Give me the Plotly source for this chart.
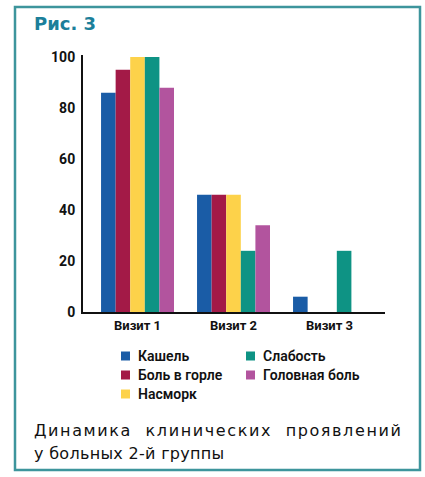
import plotly.graph_objects as go

# Data
visits = ["Визит 1", "Визит 2", "Визит 3"]
symptoms = ["Кашель", "Боль в горле", "Насморк", "Слабость", "Головная боль"]
values = {
    "Кашель":        [86, 46, 6],
    "Боль в горле":  [95, 46, 0],
    "Насморк":       [100, 46, 0],
    "Слабость":      [100, 24, 24],
    "Головная боль": [88, 34, 0],
}
colors = ["#1a5ca6", "#a31a47", "#fdd24a", "#0e9384", "#b2549e"]
y_ticks = [0, 20, 40, 60, 80, 100]

W, H = 425, 477
PL, PR, PT, PB = 83, 385, 55, 312  # plot area in pixels


def px(x):
    return (x - PL) / (PR - PL)


def py(y):
    return (PB - y) / (PB - PT)


fig = go.Figure()
for name, col in zip(symptoms, colors):
    fig.add_trace(go.Bar(
        x=visits, y=values[name], name=name,
        marker=dict(color=col, line=dict(width=0)),
        showlegend=False,
    ))

shapes = [
    # outer frame
    dict(type="rect", xref="paper", yref="paper",
         x0=px(15), x1=px(420), y0=py(470), y1=py(7),
         line=dict(color="#3d959c", width=2.5), fillcolor="rgba(0,0,0,0)", layer="below"),
]
annotations = [
    dict(text="<b>Рис. 3</b>", x=px(32), y=py(24), xref="paper", yref="paper",
         xanchor="left", yanchor="middle", showarrow=False,
         font=dict(family="DejaVu Sans", size=18, color="#1b7f9a")),
]

# legend in two columns
leg_cols = [(121, [0, 1, 2]), (246, [3, 4])]
row_y = [356, 375, 394]
for x0, idxs in leg_cols:
    for r, i in enumerate(idxs):
        yc = row_y[r]
        shapes.append(dict(type="rect", xref="paper", yref="paper",
                           x0=px(x0), x1=px(x0 + 9), y0=py(yc + 4.5), y1=py(yc - 4.5),
                           fillcolor=colors[i], line=dict(width=0)))
        annotations.append(dict(text=symptoms[i], x=px(x0 + 15), y=py(yc),
                                xref="paper", yref="paper", xanchor="left", yanchor="middle",
                                showarrow=False,
                                font=dict(family="Roboto", size=14, color="#111111", weight=600)))

# caption (first line justified to the frame width)
cap_font = dict(family="DejaVu Sans", size=16, color="#111111")
annotations.append(dict(
    text='<span style="letter-spacing:1.6px;word-spacing:7px">Динамика клинических проявлений</span>',
    x=px(32), y=py(430), xref="paper", yref="paper",
    xanchor="left", yanchor="middle", showarrow=False, font=cap_font))
annotations.append(dict(
    text='<span style="letter-spacing:0.3px">у больных 2-й группы</span>',
    x=px(32), y=py(453), xref="paper", yref="paper", xanchor="left", yanchor="middle",
    showarrow=False, font=cap_font))

fig.update_layout(
    width=W, height=H,
    margin=dict(l=PL, r=W - PR, t=PT, b=H - PB, pad=0),
    paper_bgcolor="white", plot_bgcolor="white",
    barmode="group", bargap=0.24, bargroupgap=0,
    shapes=shapes, annotations=annotations,
    xaxis=dict(range=[-0.568, 2.578], showline=True, linecolor="#111111", linewidth=2,
               ticks="", showgrid=False, zeroline=False,
               tickfont=dict(family="Roboto", size=13, color="#111111", weight="bold")),
    yaxis=dict(range=[0, 100.8], tickvals=y_ticks, showline=True, linecolor="#111111",
               linewidth=2, ticks="", showgrid=False, zeroline=False, ticklabelstandoff=3,
               tickfont=dict(family="Roboto", size=14, color="#111111", weight="bold")),
)

fig.write_html("out.html")
